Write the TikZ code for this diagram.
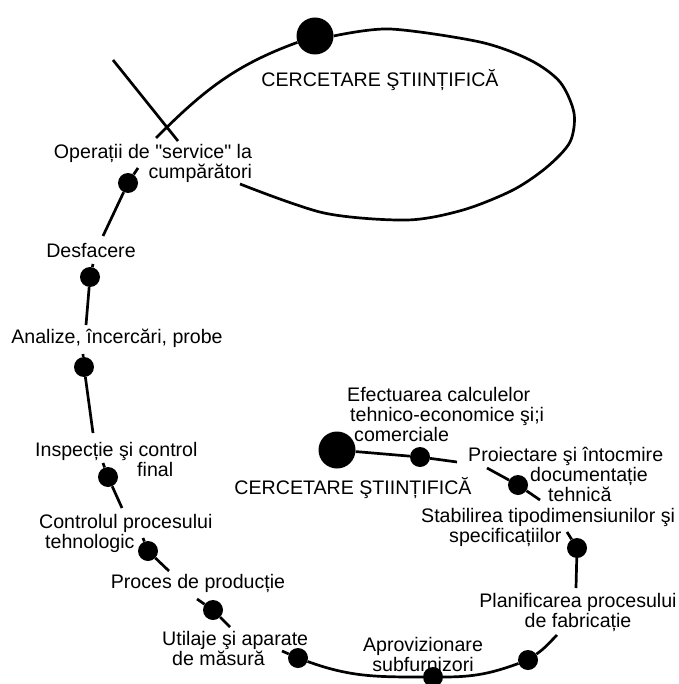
\documentclass[tikz,border=0pt]{standalone}
\usepackage{fontspec}
\setmainfont{Liberation Sans}
\newcommand\dq{\XeTeXglyph\XeTeXcharglyph"22\relax}
\begin{document}
\begin{tikzpicture}[x=1pt,y=-1pt,
    spot/.style={circle,fill,inner sep=0pt,minimum size=20pt},
    bigspot/.style={circle,fill,inner sep=0pt,minimum size=37pt},
    lbl/.style={inner sep=0pt,font=\fontsize{19.6}{20}\selectfont},
    spir/.style={line width=2.7pt}]
\useasboundingbox (0,0) rectangle (678,684);
% bucla de sus
\node [bigspot] (cs1) at (315,36) {};
\node [lbl] (tcs1) at (380,80) {CERCETARE ŞTIINȚIFICĂ};
\coordinate (o1) at (156,138);
\coordinate (o2) at (240,184);
\draw [spir] (cs1) to[out=200,in=45] (o1);
\draw [spir] plot[smooth,tension=0.5] coordinates {(cs1.east) (390,29) (480,42) (530,60) (560,82) (574,113) (570,142) (547,167) (513,190) (463,210) (407,220) (324,213) (o2)};
\coordinate (x1) at (113,60);
\coordinate (x2) at (178,141);
\draw [spir] (x1)--(x2);
% spirala
\node [lbl,align=right] (t1) at (153,163) {Operații de \dq service\dq\ la\\cumpărători};
\node [spot] (d1) at (128,183) {};
\coordinate (s1) at (138,168); \coordinate (e1) at (103,236);
\node [lbl] (t2) at (91,251) {Desfacere};
\node [spot] (d2) at (90,277) {};
\coordinate (s2) at (93,264); \coordinate (e2) at (86,325);
\node [lbl] (t3) at (117,338) {Analize, încercări, probe};
\node [spot] (d3) at (84,367) {};
\coordinate (s3) at (83,354); \coordinate (e3) at (93,433);
\node [lbl,align=left,anchor=west] (t4) at (35,459) {Inspecție şi control\\\hspace*{102pt}final};
\node [spot] (d4) at (108,477) {};
\coordinate (s4) at (103,463); \coordinate (e4) at (122,508);
\node [lbl,align=left,anchor=west] (t5) at (39,533) {Controlul procesului\\\hspace*{6pt}tehnologic};
\node [spot] (d5) at (148,551) {};
\coordinate (s5) at (143,538); \coordinate (e5) at (169,571);
\node [lbl] (t6) at (198,583) {Proces de producție};
\node [spot] (d6) at (213,610) {};
\coordinate (s6) at (197,599); \coordinate (e6) at (230,627);
\node [lbl,align=left,anchor=west] (t7) at (162,648) {Utilaje şi aparate\\\hspace*{10pt}de măsură};
\node [spot] (d7) at (298,658) {};
\coordinate (s7) at (282,651);
\node [lbl,align=center] (t8) at (423,654) {Aprovizionare\\subfurnizori};
\node [spot] (d8) at (433,677) {};
\node [spot] (d9) at (528,660) {};
\coordinate (e9) at (557,635);
\node [lbl,align=center] (t9) at (578,612) {Planificarea procesului\\de fabricație};
\node [spot] (d10) at (577,548) {};
\coordinate (s10) at (567,532); \coordinate (e10) at (576,588);
\node [lbl,align=left,anchor=west] (t10) at (421,527) {Stabilirea tipodimensiunilor şi\\\hspace*{28pt}specificațiilor};
\node [spot] (d11) at (518,485) {};
\coordinate (s11) at (487,468); \coordinate (e11) at (540,500);
\node [lbl,align=left,anchor=west] (t11) at (468,474) {Proiectare şi întocmire\\\hspace*{62pt}documentație\\\hspace*{80pt}tehnică};
\node [spot] (d12) at (420,457) {};
\coordinate (e12) at (457,462);
\node [lbl,align=left,anchor=west] (t12) at (347,414) {Efectuarea calculelor\\\hspace*{3pt}tehnico-economice şi;i\\\hspace*{7pt}comerciale};
\node [bigspot] (cs2) at (337,450) {};
\node [lbl] (tcs2) at (353,488) {CERCETARE ŞTIINȚIFICĂ};
\draw [spir] (s1)--(d1)--(e1);
\draw [spir] (s2)--(d2)--(e2);
\draw [spir] (s3)--(d3)--(e3);
\draw [spir] (s4)--(d4)--(e4);
\draw [spir] (s5)--(d5)--(e5);
\draw [spir] (s6)--(d6)--(e6);
\draw [spir] (s7)--(d7) to[out=-20,in=180] (d8) to[out=0,in=200] (d9) to[out=35,in=225] (e9);
\draw [spir] (s10)--(d10)--(e10);
\draw [spir] (s11)--(d11)--(e11);
\draw [spir] (cs2)--(d12)--(e12);
\end{tikzpicture}
\end{document}
